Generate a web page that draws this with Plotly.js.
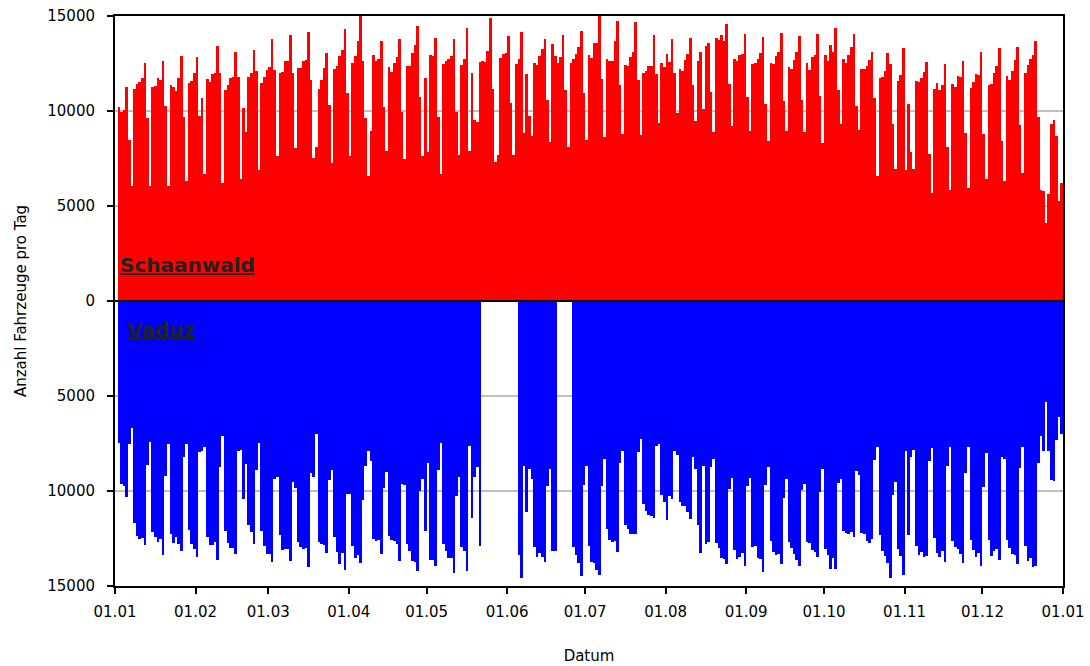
<!DOCTYPE html>
<html><head><meta charset="utf-8">
<script src="https://cdn.plot.ly/plotly-3.0.1.min.js"></script>
<style>html,body{margin:0;padding:0;background:#fff}#chart{width:1090px;height:666px}</style>
</head><body><div id="chart"></div>
<script>
const year = 2007;
const monthLabels = ['01.01','01.02','01.03','01.04','01.05','01.06','01.07','01.08','01.09','01.10','01.11','01.12','01.01'];
const yTicks = [-15000,-10000,-5000,0,5000,10000,15000];
const seriesNames = ['Schaanwald','Vaduz'];

// Daily vehicle counts, 1 Jan .. 31 Dec (rows: Mon..Sun after the first partial week)
const schaanwald = [null,
 10190, 9930, 10030, 11250, 8450, 6070,
 11140, 11400, 11510, 11720, 12510, 9610, 6070,
 11250, 11300, 11720, 11620, 12620, 10240, 6070,
 11350, 11250, 11040, 11720, 12880, 9660, 6340,
 11460, 11560, 11990, 12830, 9720, 10670, 6710,
 11670, 11510, 11930, 11990, 13410, 11990, 6230,
 11090, 11350, 11720, 11770, 13090, 11770, 6440,
 10140, 8920, 11770, 11990, 13200, 12090, 6920,
 11460, 11770, 12140, 12300, 13790, 12150, 7610,
 11990, 12040, 12620, 12620, 14000, 11990, 8030,
 12250, 12250, 12620, 12670, 14160, 11620, 7550,
 8130, 11140, 11620, 12250, 13050, 10300, 7240,
 12200, 12360, 12890, 13200, 14310, 10930, 7610,
 12520, 12890, 13680, 15000, 12620, 9610, 6600,
 8930, 12940, 12620, 12730, 13680, 10190, 7870,
 12310, 12040, 12520, 12840, 13790, 9930, 7500,
 12360, 12360, 13050, 13470, 14470, 10720, 7610,
 11720, 7820, 12940, 12890, 13840, 9670, 6710,
 12470, 12620, 12730, 12890, 13790, 9930, 7660,
 12410, 12730, 14370, 7870, 11990, 9510, 9400,
 12570, 12620, 12570, 13150, 14900, 11140, 7340,
 7710, 12780, 12990, 13050, 13940, 10410, 7710,
 12470, 12730, 14160, 8820, 11940, 9720, 8660,
 12520, 12410, 12890, 13260, 13790, 10560, 8350,
 13520, 12890, 12520, 12840, 14000, 11090, 8080,
 12520, 12730, 12990, 13360, 14210, 10930, 8500,
 12940, 12780, 13570, 13570, 15000, 11670, 8610,
 12730, 12620, 12620, 13680, 14740, 11360, 8770,
 12410, 12360, 12840, 13100, 14680, 11620, 8720,
 11990, 12100, 12360, 12360, 14000, 11940, 9350,
 12520, 12310, 12990, 12570, 13790, 11990, 9880,
 12200, 12100, 12680, 12990, 13840, 11360, 9450,
 12620, 13100, 10090, 13420, 13570, 10990, 8870,
 13840, 13730, 14000, 13680, 14580, 11410, 9190,
 12730, 12620, 12940, 12990, 14050, 10720, 8930,
 12470, 12520, 12730, 13050, 13890, 10350, 8400,
 12520, 12470, 12890, 13100, 14100, 10510, 8930,
 12310, 12200, 12680, 13100, 13940, 10560, 8870,
 12520, 12150, 12840, 12940, 14050, 10780, 8290,
 12940, 12620, 13470, 13100, 14370, 11090, 9300,
 12730, 12520, 12940, 13360, 14050, 10250, 8980,
 12200, 12200, 12360, 12680, 13100, 10670, 6600,
 11720, 11780, 12100, 13050, 12470, 9300, 6970,
 11570, 11880, 13310, 6920, 10350, 7820, 6970,
 11570, 11510, 11720, 12040, 12570, 7760, 5700,
 11140, 11460, 11090, 11360, 12470, 8130, 5860,
 11410, 11250, 11830, 11780, 12620, 8820, 5970,
 11200, 11510, 11940, 11880, 13100, 8770, 6440,
 11360, 11410, 11990, 12360, 13310, 8400, 6340,
 11830, 11620, 12100, 12680, 13360, 9240, 6760,
 11990, 12410, 12730, 12940, 13680, 9670, 5860,
 5810, 4100, 5650, 9300, 9510, 8660, 5280,
 6230];

const vaduz = [null,
 7450, 9650, 9760, 10330, 7550, 6660,
 11700, 12380, 12540, 12480, 12850, 8650, 7400,
 12170, 12430, 12690, 12540, 13370, 9230, 7550,
 12270, 12750, 12430, 12800, 13170, 8230, 7550,
 12060, 12800, 13060, 13480, 7970, 7920, 7710,
 12430, 12850, 12850, 12690, 13640, 8760, 7080,
 12120, 12750, 13010, 13010, 13320, 7900, 7820,
 10440, 8600, 11800, 12170, 12800, 8920, 7450,
 12120, 12900, 13320, 13320, 13740, 9390, 9280,
 12330, 13110, 13060, 13060, 13690, 9550, 9860,
 12690, 12960, 13060, 13010, 14000, 9070, 9280,
 6980, 12690, 12800, 12850, 13270, 9440, 8920,
 12430, 13220, 13850, 13270, 14160, 10180, 10180,
 12900, 13530, 13370, 13790, 10490, 8710, 7870,
 8440, 12540, 12640, 12590, 13320, 9860, 9020,
 12380, 12590, 12640, 12800, 13690, 9650, 9700,
 12800, 13170, 13690, 13740, 14210, 10020, 9390,
 12120, 8550, 13640, 13640, 13950, 8920, 7450,
 12800, 13170, 13530, 13530, 14320, 10280, 9280,
 12960, 13170, 14210, 7610, 11430, 9280, 8760,
 12900, null, null, null, null, null, null,
 null, null, null, null, null, null, null,
 null, 13370, 14580, 8710, 11120, 8860, 9390,
 12960, 13480, 13270, 13480, 13740, 9760, 8860,
 13170, 13170, null, null, null, null, null,
 null, 12960, 13370, 13790, 14480, 9700, 8710,
 12900, 13740, 13790, 14160, 14420, 9760, 8340,
 12010, 12590, 12690, 12640, 13220, 8500, 7920,
 11800, 12010, 12270, 12270, 12270, 7970, 7240,
 10700, 11070, 11280, 11330, 11430, 7610, 7550,
 10230, 10590, 11540, 10280, 10440, 7870, 8080,
 10590, 10800, 10800, 11120, 11490, 8230, 8860,
 11800, 13270, 8710, 12800, 12690, 8760, 8290,
 12750, 13010, 13530, 13580, 13850, 9910, 9340,
 13110, 13580, 13480, 13270, 13950, 9760, 9340,
 12960, 12900, 13530, 13580, 14270, 9700, 8760,
 12640, 13220, 13370, 13320, 13850, 10390, 9390,
 12690, 13010, 13320, 13640, 13950, 9970, 9650,
 12690, 12750, 13110, 13220, 13480, 10070, 8860,
 13060, 13370, 14110, 13530, 14110, 9600, 9390,
 12120, 12220, 12270, 12170, 12430, 8970, 9180,
 12220, 12270, 12640, 12750, 12540, 8390, 7660,
 12330, 13170, 13430, 13790, 14580, 10230, 9550,
 13060, 13430, 14420, 7870, 12330, 8230, 7820,
 12900, 13370, 13220, 13480, 13430, 8440, 7760,
 12490, 13270, 13480, 13170, 13740, 8710, 7660,
 12640, 12960, 13060, 13320, 13790, 9070, 7710,
 12590, 13110, 13480, 13270, 13950, 9810, 8020,
 12590, 13430, 13170, 13060, 13640, 8230, 8290,
 12590, 13010, 13320, 13370, 13850, 8810, 7710,
 12900, 13690, 13530, 14000, 13950, 8550, 7080,
 7870, 5300, 7870, 9440, 9490, 7290, 6080,
 6980];

const pad = n => String(n).padStart(2,'0');
const dates = schaanwald.map((_, i) => {
  const d = new Date(Date.UTC(year, 0, 1 + i));
  return d.getUTCFullYear() + '-' + pad(d.getUTCMonth()+1) + '-' + pad(d.getUTCDate()) + ' 12:00';
});
const monthTicks = monthLabels.map((_, i) => i < 12 ? `${year}-${pad(i+1)}-01` : `${year+1}-01-01`);

const traces = [
  {type:'bar', name:seriesNames[0], x:dates, y:schaanwald, marker:{color:'#ff0000', line:{width:0}}, hoverinfo:'skip'},
  {type:'bar', name:seriesNames[1], x:dates, y:vaduz.map(v => v == null ? null : -v), marker:{color:'#0000ff', line:{width:0}}, hoverinfo:'skip'}
];

const layout = {
  width:1090, height:666,
  margin:{l:115, r:27, t:16, b:80},
  paper_bgcolor:'#ffffff', plot_bgcolor:'#ffffff',
  barmode:'overlay', bargap:0,
  showlegend:false,
  font:{family:'DejaVu Sans, Verdana, sans-serif', size:15, color:'#000'},
  xaxis:{
    type:'date', range:[`${year}-01-01`, `${year+1}-01-01`],
    tickmode:'array', tickvals:monthTicks, ticktext:monthLabels,
    ticks:'outside', ticklen:6, tickwidth:2, tickcolor:'#000',
    ticklabelstandoff:5,
    showgrid:false, zeroline:false,
    showline:true, mirror:true, linecolor:'#000', linewidth:2,
    layer:'above traces',
    title:{text:'Datum', standoff:30, font:{size:15}}
  },
  yaxis:{
    range:[-15000, 15000],
    tickmode:'array', tickvals:yTicks, ticktext:yTicks.map(v => String(Math.abs(v))),
    ticks:'outside', ticklen:6, tickwidth:2, tickcolor:'#000',
    ticklabelstandoff:9,
    showgrid:true, gridcolor:'#c0c0c0', gridwidth:2, zeroline:false,
    showline:true, mirror:true, linecolor:'#000', linewidth:2,
    layer:'above traces',
    title:{text:'Anzahl Fahrzeuge pro Tag', standoff:17, font:{size:15}}
  },
  shapes:[{type:'line', xref:'paper', x0:0, x1:1, yref:'y', y0:0, y1:0, line:{color:'#000', width:2}}],
  annotations:[
    {xref:'paper', yref:'y', x:0.003, y:1900, xanchor:'left', yanchor:'middle', showarrow:false,
     text:'<b><u>'+seriesNames[0]+'</u></b>', font:{size:20, color:'#222'}},
    {xref:'paper', yref:'y', x:0.011, y:-1520, xanchor:'left', yanchor:'middle', showarrow:false,
     text:'<b><u>'+seriesNames[1]+'</u></b>', font:{size:20, color:'#222'}}
  ]
};

Plotly.newPlot('chart', traces, layout, {staticPlot:true, displayModeBar:false});
</script>
</body></html>
